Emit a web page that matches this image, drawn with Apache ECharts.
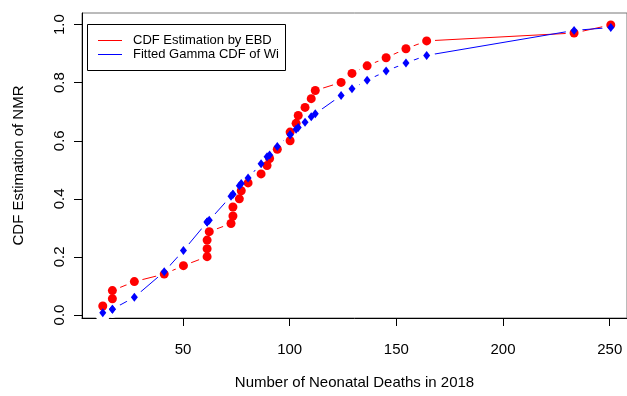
<!DOCTYPE html>
<html>
<head>
<meta charset="utf-8">
<script src="https://cdn.jsdelivr.net/npm/echarts@6/dist/echarts.min.js"></script>
<style>html,body{margin:0;padding:0;background:#fff;}#c{width:627px;height:396px;}</style>
</head>
<body>
<div id="c"></div>
<script>
// Data
const deaths = [12.4, 16.9, 16.9, 27.2, 41.2, 50.2, 61.3, 61.3, 61.3, 62.3, 72.5, 73.4, 73.4, 76.4, 77.3, 80.5, 86.6, 89.4, 90.6, 94.2, 100.2, 100.2, 103, 104, 107.2, 110.1, 112, 124.1, 129.2, 136.3, 145.2, 154.5, 164.2, 233.3, 250.5];
const cdfEBD = [0.031, 0.056, 0.084, 0.115, 0.141, 0.170, 0.201, 0.228, 0.258, 0.287, 0.315, 0.341, 0.372, 0.400, 0.428, 0.455, 0.486, 0.515, 0.539, 0.571, 0.600, 0.630, 0.660, 0.687, 0.715, 0.745, 0.773, 0.801, 0.832, 0.858, 0.886, 0.917, 0.944, 0.971, 0.999];
const cdfGamma = [0.008, 0.020, 0.020, 0.061, 0.149, 0.222, 0.320, 0.320, 0.320, 0.326, 0.409, 0.416, 0.416, 0.445, 0.453, 0.472, 0.521, 0.545, 0.551, 0.580, 0.621, 0.621, 0.640, 0.646, 0.664, 0.683, 0.693, 0.756, 0.779, 0.808, 0.840, 0.868, 0.894, 0.980, 0.990];
const xTicks = [50, 100, 150, 200, 250];
const yTicks = [0, 0.2, 0.4, 0.6, 0.8, 1.0];
const legendNames = ['CDF Estimation by EBD', 'Fitted Gamma CDF of Wi'];
const xTitle = 'Number of Neonatal Deaths in 2018';
const yTitle = 'CDF Estimation of NMR';

const FONT = 'Liberation Sans, Arial, sans-serif';
const redPts = deaths.map((x, i) => [x, cdfEBD[i]]);
const bluePts = deaths.map((x, i) => [x, cdfGamma[i]]);

const chart = echarts.init(document.getElementById('c'), null, {renderer: 'canvas'});
chart.setOption({
  animation: false,
  backgroundColor: '#fff',
  grid: {left: 82, right: 0, top: 13, bottom: 78, show: true, borderColor: '#777', borderWidth: 1},
  xAxis: {
    type: 'value', min: 2.66, max: 258.1,
    name: xTitle, nameLocation: 'middle', nameGap: 57,
    nameTextStyle: {fontFamily: FONT, fontSize: 15, color: '#000'},
    axisLine: {show: true, onZero: false, lineStyle: {color: '#000', width: 1}},
    axisTick: {show: true, inside: false, length: 8, lineStyle: {color: '#000'}, customValues: xTicks},
    axisLabel: {fontFamily: FONT, fontSize: 15, color: '#000', margin: 24, customValues: xTicks},
    splitLine: {show: false}
  },
  yAxis: {
    type: 'value', min: -0.0103, max: 1.040,
    name: yTitle, nameLocation: 'middle', nameGap: 56, nameRotate: 90,
    nameTextStyle: {fontFamily: FONT, fontSize: 15, color: '#000'},
    axisLine: {show: true, onZero: false, lineStyle: {color: '#000', width: 1}},
    axisTick: {show: true, inside: false, length: 8, lineStyle: {color: '#000'}, customValues: yTicks},
    axisLabel: {fontFamily: FONT, fontSize: 15, color: '#000', margin: 15, rotate: 90,
      customValues: yTicks, formatter: v => v.toFixed(1)},
    splitLine: {show: false}
  },
  series: [
    {type: 'line', data: redPts, showSymbol: false, lineStyle: {color: '#ff0000', width: 1}, z: 1, silent: true},
    {type: 'scatter', data: redPts, symbol: 'circle', symbolSize: 17, itemStyle: {color: '#fff', opacity: 1}, z: 2, silent: true},
    {type: 'line', data: bluePts, showSymbol: false, lineStyle: {color: '#0000ff', width: 1}, z: 3, silent: true},
    {type: 'scatter', data: bluePts, symbol: 'circle', symbolSize: 17, itemStyle: {color: '#fff', opacity: 1}, z: 4, silent: true},
    {type: 'scatter', data: redPts, symbol: 'circle', symbolSize: 9, itemStyle: {color: '#ff0000', opacity: 1}, z: 5, silent: true},
    {type: 'scatter', data: bluePts, symbol: 'diamond', symbolSize: [7, 9], itemStyle: {color: '#0000ff', opacity: 1}, z: 6, silent: true}
  ],
  graphic: [
    {type: 'rect', shape: {x: 87.5, y: 24.5, width: 198, height: 46}, style: {fill: '#fff', stroke: '#000', lineWidth: 1}, z: 100},
    {type: 'line', shape: {x1: 98, y1: 40.5, x2: 122, y2: 40.5}, style: {stroke: '#ff0000', lineWidth: 1}, z: 101},
    {type: 'line', shape: {x1: 98, y1: 54.5, x2: 122, y2: 54.5}, style: {stroke: '#0000ff', lineWidth: 1}, z: 101},
    {type: 'text', x: 133, y: 40.5, style: {text: legendNames[0], font: '13px ' + FONT, fill: '#000', verticalAlign: 'middle'}, z: 101},
    {type: 'text', x: 133, y: 54.5, style: {text: legendNames[1], font: '13px ' + FONT, fill: '#000', verticalAlign: 'middle'}, z: 101}
  ]
});
</script>
</body>
</html>
